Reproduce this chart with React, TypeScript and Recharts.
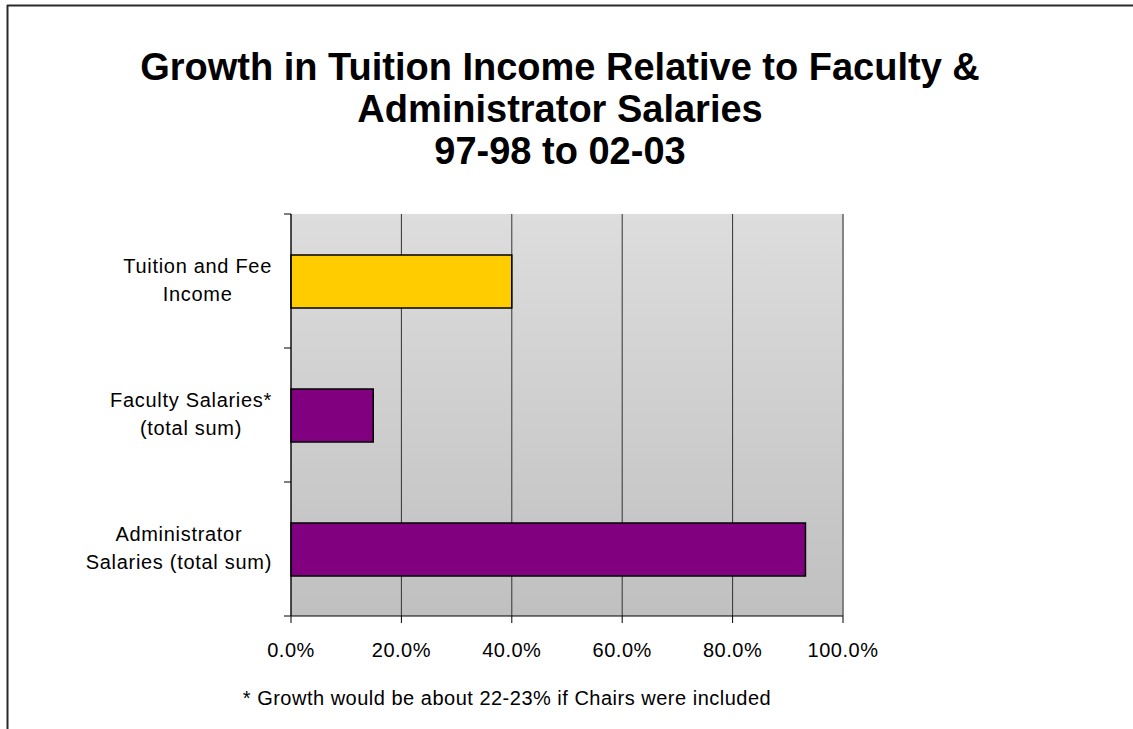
import React from 'react';
import {
  Bar,
  BarChart,
  CartesianGrid,
  Cell,
  ReferenceLine,
  XAxis,
  YAxis,
} from 'recharts';

const categories = [
  'Tuition and Fee Income',
  'Faculty Salaries* (total sum)',
  'Administrator Salaries (total sum)',
];
const categoryLines = [
  ['Tuition and Fee', 'Income'],
  ['Faculty Salaries*', '(total sum)'],
  ['Administrator', 'Salaries (total sum)'],
];
const growth = [0.4, 0.149, 0.932];
const xTicks = [0, 0.2, 0.4, 0.6, 0.8, 1.0];
const titleLines = [
  'Growth in Tuition Income Relative to Faculty &',
  'Administrator Salaries',
  '97-98 to 02-03',
];
const footnote = '* Growth would be about 22-23% if Chairs were included';

const barColors = ['#FFCC00', '#800080', '#800080'];

const FONT = '"Liberation Sans", Arial, sans-serif';
const TICK_SIZE = 7;
const TICK_MARGIN = 12;

const data = categories.map((name, i) => ({ name, value: growth[i] }));

let measureCtx: CanvasRenderingContext2D | null = null;
const textWidth = (s: string) => {
  if (!measureCtx) {
    measureCtx = document.createElement('canvas').getContext('2d');
  }
  if (!measureCtx) return s.length * 10;
  measureCtx.font = `20px ${FONT}`;
  return measureCtx.measureText(s).width + s.length * 0.7;
};

const CategoryTick = (props: any) => {
  const { x, y, payload, index, visibleTicksCount } = props;
  const half = payload && payload.offset ? payload.offset : 67;
  const axisX = x + TICK_SIZE + TICK_MARGIN;
  const lines = categoryLines[index] || [String(payload.value)];
  const blockW = Math.max(...lines.map(textWidth));
  const cx = x - blockW / 2;
  return (
    <g>
      <line x1={axisX - TICK_SIZE} x2={axisX} y1={y - half} y2={y - half} stroke="#000" />
      {index === visibleTicksCount - 1 && (
        <line x1={axisX - TICK_SIZE} x2={axisX} y1={y + half} y2={y + half} stroke="#000" />
      )}
      {lines.map((line, i) => (
        <text
          key={i}
          x={cx}
          y={y - 8 + i * 28}
          textAnchor="middle"
          fontFamily={FONT}
          fontSize={20}
          letterSpacing={0.7}
          fill="#000"
        >
          {line}
        </text>
      ))}
    </g>
  );
};

export default function App() {
  return (
    <div style={{ position: 'absolute', left: 0, top: 0, width: 1133, height: 729, background: '#fff' }}>
      <BarChart
        width={1133}
        height={729}
        data={data}
        layout="vertical"
        margin={{ top: 214, right: 290, bottom: 53, left: 91 }}
      >
        <defs>
          <linearGradient id="plotBg" x1="0" y1="0" x2="0" y2="1">
            <stop offset="0%" stopColor="#dddddd" />
            <stop offset="100%" stopColor="#c0c0c0" />
          </linearGradient>
        </defs>
        <CartesianGrid horizontal={false} stroke="#333" fill="url(#plotBg)" fillOpacity={1} />
        <XAxis
          type="number"
          domain={[0, 1]}
          ticks={xTicks}
          interval={0}
          height={60}
          tickSize={TICK_SIZE}
          tickMargin={20}
          stroke="#000"
          tick={{ fill: '#000', fontSize: 20, fontFamily: FONT, letterSpacing: 0.5 }}
          tickFormatter={(v: number) => `${(v * 100).toFixed(1)}%`}
        />
        <XAxis
          xAxisId="top"
          orientation="top"
          type="number"
          domain={[0, 1]}
          height={0}
          tick={false}
          tickLine={false}
          stroke="#808080"
        />
        <YAxis
          type="category"
          dataKey="name"
          width={200}
          tickSize={TICK_SIZE}
          tickMargin={TICK_MARGIN}
          tickLine={false}
          stroke="#000"
          interval={0}
          tick={<CategoryTick />}
        />
        <ReferenceLine x={1} stroke="#808080" strokeWidth={1.5} />
        <Bar dataKey="value" barSize={53} stroke="#000" strokeWidth={1.5} isAnimationActive={false}>
          {data.map((_, i) => (
            <Cell key={`cell-${i}`} fill={barColors[i]} />
          ))}
        </Bar>
      </BarChart>
      <svg
        width={1133}
        height={729}
        style={{ position: 'absolute', left: 0, top: 0, pointerEvents: 'none' }}
      >
        <line x1={7} x2={1133} y1={5.5} y2={5.5} stroke="#2a2a2a" strokeWidth={2} />
        <line x1={7.5} x2={7.5} y1={5} y2={729} stroke="#2a2a2a" strokeWidth={2} />
        {titleLines.map((t, i) => (
          <text
            key={i}
            x={560}
            y={80 + i * 42}
            textAnchor="middle"
            fontFamily={FONT}
            fontWeight="bold"
            fontSize={38}
            fill="#000"
          >
            {t}
          </text>
        ))}
        <text
          x={507}
          y={705}
          textAnchor="middle"
          fontFamily={FONT}
          fontSize={20}
          letterSpacing={0.5}
          fill="#000"
        >
          {footnote}
        </text>
      </svg>
    </div>
  );
}
